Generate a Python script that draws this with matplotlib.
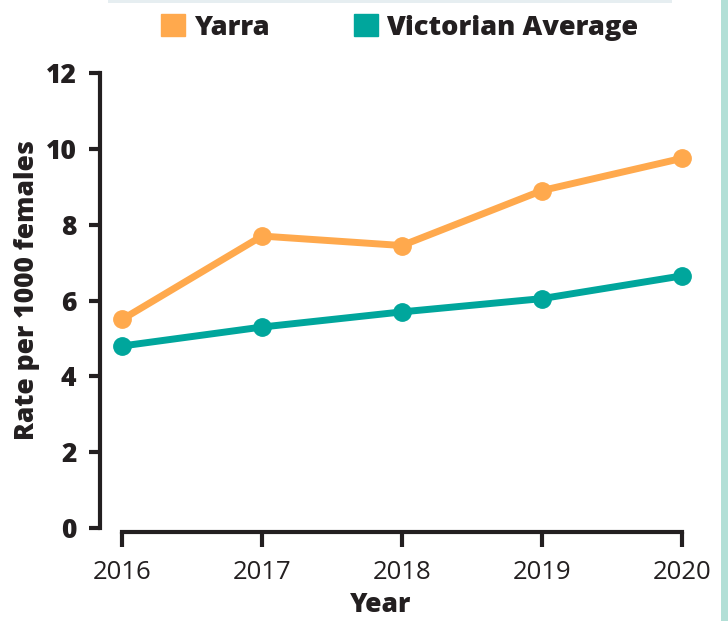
import matplotlib.pyplot as plt
from matplotlib.patches import Patch, Rectangle

years = [2016, 2017, 2018, 2019, 2020]
yarra = [5.5, 7.7, 7.45, 8.9, 9.75]
victoria = [4.8, 5.3, 5.7, 6.05, 6.65]
series_names = ["Yarra", "Victorian Average"]
yticks = [0, 2, 4, 6, 8, 10, 12]

orange = "#ffa94d"
teal = "#00a69c"
ink = "#231f20"

plt.rcParams['font.family'] = ['Open Sans', 'DejaVu Sans']

fig = plt.figure(figsize=(7.28, 6.21), dpi=100)
ax = fig.add_axes([100/728, 89/621, 600/728, 472/621])

ax.plot(years, yarra, color=orange, lw=5, marker='o', ms=12.5, clip_on=False, zorder=3)
ax.plot(years, victoria, color=teal, lw=5, marker='o', ms=12.5, clip_on=False, zorder=3)

ax.set_xlim(2016 - 22/140, 2020 + 18/140)
ax.set_ylim(-4/37.83, 12 + 13/37.83)
ax.set_xticks(years)
ax.set_yticks(yticks)

for s in ['top', 'right']:
    ax.spines[s].set_visible(False)
ax.spines['left'].set_bounds(0, 12)
ax.spines['bottom'].set_bounds(2016, 2020)
for s in ['left', 'bottom']:
    ax.spines[s].set_linewidth(3)
    ax.spines[s].set_color(ink)
    ax.spines[s].set_capstyle('projecting')

ax.tick_params(axis='y', length=8, width=3, color=ink, pad=9,
               labelsize=19, labelcolor=ink)
ax.tick_params(axis='x', length=11, width=3, color=ink, pad=9,
               labelsize=18.5, labelcolor=ink)
for lab in ax.get_yticklabels():
    lab.set_fontweight('heavy')

ax.set_ylabel("Rate per 1000 females", fontsize=19, fontweight='heavy', color=ink)
ax.yaxis.set_label_coords(-0.1, 0.513)
ax.set_xlabel("Year", fontsize=19, fontweight='heavy', color=ink)
ax.xaxis.set_label_coords(0.467, -0.128)

handles = [Patch(color=orange), Patch(color=teal)]
fig.legend(handles, series_names, loc='center', bbox_to_anchor=(0.549, 0.956),
           ncol=2, frameon=False, prop={'weight': 'heavy', 'size': 19.6},
           handlelength=0.88, handleheight=0.88, handletextpad=0.3,
           columnspacing=3.1, labelcolor=ink)

# page decorations
fig.add_artist(Rectangle((108/728, 1 - 3/621), 564/728, 3/621,
                         transform=fig.transFigure, color="#e6eef1", lw=0))
fig.add_artist(Rectangle((721/728, 0), 7/728, 1,
                         transform=fig.transFigure, color="#b2dfd6", lw=0))

fig.savefig("out.png", dpi=100)
